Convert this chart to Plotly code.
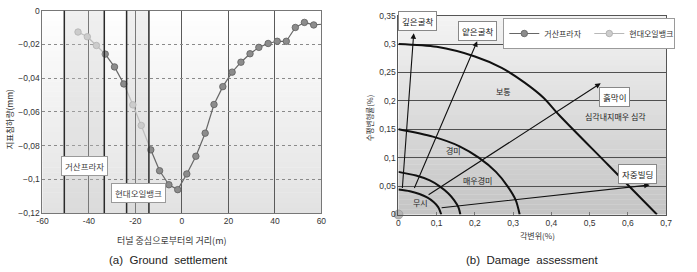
import plotly.graph_objects as go

# ---------------- data: (a) ground settlement ----------------
dark_name = "거산프라자"
light_name = "현대오일뱅크"
dark_x = [-33, -29, -25, -13.4, -9.6, -5.6, -1.8, 2.1, 6.0, 10.0, 13.8, 17.6, 21.6, 25.4,
          29.3, 33.1, 37.1, 41.0, 44.9, 48.8, 52.7, 56.7, 62]
dark_y = [-0.0257, -0.0333, -0.0434, -0.0825, -0.0949, -0.1032, -0.1061, -0.0968, -0.0863,
          -0.0726, -0.0556, -0.045, -0.0364, -0.0305, -0.0255, -0.0217, -0.0194, -0.0181,
          -0.0181, -0.0099, -0.0069, -0.0084, -0.0078]
light_x = [-44.7, -40.7, -36.8, -21.1, -17.5]
light_y = [-0.0126, -0.0154, -0.0206, -0.0558, -0.068]
band_a = [-50.6, -33.4]   # 거산프라자 zone
band_b = [-23.8, -14.2]   # 현대오일뱅크 zone
ax_ticks = [-60, -40, -20, 0, 20, 40, 60]
ay_ticks = [0, -0.02, -0.04, -0.06, -0.08, -0.1, -0.12]
ay_text = ["0", "−0,02", "−0,04", "−0,06", "−0,08", "−0,1", "−0,12"]

# ---------------- data: (b) damage assessment ----------------
c1_x = [0, 0.1, 0.2, 0.27, 0.33, 0.38, 0.42, 0.548, 0.676]
c1_y = [0.3, 0.295, 0.278, 0.258, 0.232, 0.205, 0.175, 0.0875, 0]
c2_x = [0, 0.09, 0.16, 0.21, 0.255, 0.285, 0.307, 0.317]
c2_y = [0.15, 0.137, 0.12, 0.1, 0.075, 0.05, 0.025, 0]
c3_x = [0, 0.046, 0.082, 0.107, 0.13, 0.146, 0.157, 0.162]
c3_y = [0.075, 0.0685, 0.06, 0.05, 0.0375, 0.025, 0.0125, 0]
c4_x = [0, 0.03, 0.055, 0.075, 0.092, 0.104, 0.112]
c4_y = [0.044, 0.041, 0.036, 0.03, 0.022, 0.013, 0]
arrows = [  # label, start(x,y), end(x,y)
    ("깊은굴착", 0.01, 0.044, 0.04, 0.319),
    ("얕은굴착", 0.04, 0.044, 0.206, 0.305),
    ("흙막이", 0.075, 0.033, 0.529, 0.231),
    ("자중빌딩", 0.109, 0.0115, 0.657, 0.052),
]
origin_x = [0]
origin_y = [0]
bx_ticks = [0, 0.1, 0.2, 0.3, 0.4, 0.5, 0.6, 0.7]
bx_text = ["0", "0,1", "0,2", "0,3", "0,4", "0,5", "0,6", "0,7"]
by_ticks = [0, 0.05, 0.1, 0.15, 0.2, 0.25, 0.3, 0.35]
by_text = ["0", "0,05", "0,1", "0,15", "0,2", "0,25", "0,3", "0,35"]

KR = "Noto Sans CJK KR"
NUM = "Liberation Sans"
DARK_M, DARK_L = "#8c8c8c", "#666666"
LIGHT_M, LIGHT_L = "#cdcdcd", "#b8b8b8"

W, H = 697, 272
fig = go.Figure()

# ---- segment lines for (a)
pts = sorted([(x, y, "d") for x, y in zip(dark_x, dark_y)] +
             [(x, y, "l") for x, y in zip(light_x, light_y)])
dsx, dsy, lsx, lsy = [], [], [], []
for p, q in zip(pts[:-1], pts[1:]):
    if p[2] == "d" and q[2] == "d":
        dsx += [p[0], q[0], None]; dsy += [p[1], q[1], None]
    else:
        lsx += [p[0], q[0], None]; lsy += [p[1], q[1], None]
fig.add_trace(go.Scatter(x=lsx, y=lsy, mode="lines", line=dict(color=LIGHT_L, width=1.2),
                         showlegend=False, hoverinfo="skip", xaxis="x", yaxis="y"))
fig.add_trace(go.Scatter(x=dsx, y=dsy, mode="lines", line=dict(color=DARK_L, width=1.2),
                         showlegend=False, hoverinfo="skip", xaxis="x", yaxis="y"))


def isolated(vals):
    out = []
    for v in vals:
        out += [v, None]
    return out


fig.add_trace(go.Scatter(x=isolated(dark_x), y=isolated(dark_y), mode="lines+markers",
                         name=dark_name, line=dict(color=DARK_L, width=1.2),
                         marker=dict(size=6.5, color=DARK_M, line=dict(color="#5e5e5e", width=0.8)),
                         xaxis="x", yaxis="y"))
fig.add_trace(go.Scatter(x=isolated(light_x), y=isolated(light_y), mode="lines+markers",
                         name=light_name, line=dict(color=LIGHT_L, width=1.2),
                         marker=dict(size=6.5, color=LIGHT_M, line=dict(color="#aaaaaa", width=0.8)),
                         xaxis="x", yaxis="y"))

# ---- curves for (b)
for cx, cy in [(c1_x, c1_y), (c2_x, c2_y), (c3_x, c3_y), (c4_x, c4_y)]:
    fig.add_trace(go.Scatter(x=cx, y=cy, mode="lines", line=dict(color="#111111", width=2, shape="spline", smoothing=0.8),
                             showlegend=False, hoverinfo="skip", xaxis="x2", yaxis="y2"))
fig.add_trace(go.Scatter(x=origin_x, y=origin_y, mode="markers",
                         marker=dict(size=9, color="#b5b5b5", line=dict(color="#999999", width=0.8)),
                         showlegend=False, cliponaxis=False, xaxis="x2", yaxis="y2"))

shapes = []
# gradient backgrounds
N = 40
for i in range(N):
    t = i / N
    c = int(round(255 - (255 - 226) * (1 - t - 0.5 / N)))
    shapes.append(dict(type="rect", xref="x domain", yref="y domain", x0=0, x1=1, y0=t, y1=t + 1.0 / N + 0.002,
                       fillcolor=f"rgb({c},{c},{c})", line=dict(width=0), layer="below"))
    c2 = int(round(244 - (244 - 196) * (1 - t - 0.5 / N)))
    shapes.append(dict(type="rect", xref="x2 domain", yref="y2 domain", x0=0, x1=1, y0=t, y1=t + 1.0 / N + 0.002,
                       fillcolor=f"rgb({c2},{c2},{c2})", line=dict(width=0), layer="below"))
# bands
for b in (band_a, band_b):
    shapes.append(dict(type="rect", xref="x", yref="y domain", x0=b[0], x1=b[1], y0=0, y1=1,
                       fillcolor="rgba(200,200,200,0.28)", line=dict(width=0), layer="above"))
    for xv in b:
        shapes.append(dict(type="line", xref="x", yref="y domain", x0=xv, x1=xv, y0=0, y1=1,
                           line=dict(color="#2a2a2a", width=1.5), layer="above"))

annotations = []


def paper_text(text, px, py, size, angle=0, family=KR, color="#333"):
    annotations.append(dict(x=px / W, y=1 - py / H, xref="paper", yref="paper", text=text,
                            textangle=angle, showarrow=False, xanchor="center", yanchor="middle",
                            font=dict(family=family, size=size, color=color)))


# panel (a) labels
annotations.append(dict(x=-42.1, y=-0.092, xref="x", yref="y", text=dark_name, showarrow=False,
                        xanchor="center", yanchor="middle",
                        font=dict(family=KR, size=8.5, color="#444"), bgcolor="white",
                        bordercolor="#9a9a9a", borderwidth=1, borderpad=3))
annotations.append(dict(x=-18.6, y=-0.1083, xref="x", yref="y", text=light_name, showarrow=False,
                        xanchor="center", yanchor="middle",
                        font=dict(family=KR, size=8.5, color="#444"), bgcolor="white",
                        bordercolor="#9a9a9a", borderwidth=1, borderpad=3))
paper_text("지표침하량(mm)", 3, 118, 8.5, angle=-90)
paper_text("터널 중심으로부터의 거리(m)", 169, 245, 9)
paper_text("(a)  Ground  settlement", 165, 265, 11.5, family=NUM, color="#222")
# panel (b) arrows
for lab, x0, y0, x1, y1 in arrows:
    annotations.append(dict(x=x1, y=y1, ax=x0, ay=y0, xref="x2", yref="y2", axref="x2", ayref="y2",
                            text="", showarrow=True, arrowhead=2, arrowsize=1, arrowwidth=1.1,
                            arrowcolor="#111"))
boxed = [("깊은굴착", 0.0506, 0.340), ("얕은굴착", 0.2075, 0.323), ("흙막이", 0.565, 0.206),
         ("자중빌딩", 0.625, 0.0715)]
for lab, x, y in boxed:
    annotations.append(dict(x=x, y=y, xref="x2", yref="y2", text=lab, showarrow=False,
                            xanchor="center", yanchor="middle",
                            font=dict(family=KR, size=8.5, color="#222"), bgcolor="white",
                            bordercolor="#888", borderwidth=1, borderpad=3))
plain = [("보통", 0.2735, 0.216), ("심각내지매우 심각", 0.567, 0.172), ("경미", 0.143, 0.113),
         ("매우경미", 0.2075, 0.0597), ("무시", 0.0576, 0.0212)]
for lab, x, y in plain:
    annotations.append(dict(x=x, y=y, xref="x2", yref="y2", text=lab, showarrow=False,
                            xanchor="center", yanchor="middle",
                            font=dict(family=KR, size=8, color="#222")))
paper_text("수평변형률(%)", 370, 118, 7.5, angle=-90)
paper_text("각변위(%)", 541, 239, 8)
paper_text("(b)  Damage  assessment", 535, 265, 11.5, family=NUM, color="#222")

tickfont = dict(family=NUM, size=8.5, color="#333")
fig.update_layout(
    width=W, height=H, margin=dict(l=0, r=0, t=0, b=0),
    paper_bgcolor="white", plot_bgcolor="rgba(0,0,0,0)",
    showlegend=True,
    legend=dict(orientation="h", x=506 / W, y=1 - 13.5 / H, xanchor="left", yanchor="top",
                bgcolor="white", bordercolor="#9a9a9a", borderwidth=1,
                font=dict(family=KR, size=8, color="#333"), entrywidth=40, itemwidth=30),
    xaxis=dict(domain=[37.1 / W, 320.9 / W], range=[-60, 60], tickvals=ax_ticks,
               ticktext=[str(v) for v in ax_ticks], tickfont=tickfont, showgrid=True,
               gridcolor="#5a5a5a", gridwidth=1, zeroline=False, showline=True, linecolor="#777",
               mirror=True, ticks="", anchor="y"),
    yaxis=dict(domain=[1 - 216 / H, 1 - 6 / H], range=[-0.12, 0], tickvals=ay_ticks, ticktext=ay_text,
               tickfont=tickfont, showgrid=True, gridcolor="#8a8a8a", griddash="dot", gridwidth=1,
               zeroline=False, showline=True, linecolor="#777", mirror=True, ticks="", anchor="x"),
    xaxis2=dict(domain=[399.3 / W, 671.7 / W], range=[0, 0.7], tickvals=bx_ticks, ticktext=bx_text,
                tickfont=tickfont, showgrid=False, zeroline=False, showline=True, linecolor="#555",
                mirror=True, ticks="inside", ticklen=3, tickcolor="#777", anchor="y2"),
    yaxis2=dict(domain=[1 - 217.5 / H, 1 - 11 / H], range=[0, 0.35], tickvals=by_ticks, ticktext=by_text,
                tickfont=tickfont, showgrid=True, gridcolor="#505050", gridwidth=1, zeroline=False,
                showline=True, linecolor="#555", mirror=True, ticks="", anchor="x2"),
    shapes=shapes, annotations=annotations,
)
fig.write_html("out.html")
